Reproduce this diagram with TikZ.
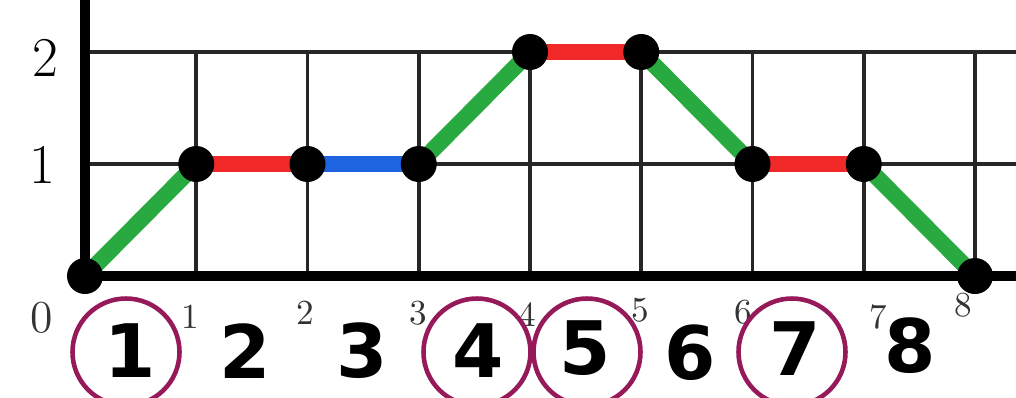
\documentclass[tikz,border=0pt]{standalone}
\usepackage{fontspec}
\usepackage{xcolor}
\usetikzlibrary{positioning}
\newfontfamily\markfont{DejaVu Sans}
\definecolor{segred}{RGB}{240,40,40}
\definecolor{seggreen}{RGB}{40,170,65}
\definecolor{segblue}{RGB}{30,100,225}
\definecolor{ringpurple}{RGB}{150,25,90}

\begin{document}
\begin{tikzpicture}
  \tikzset{
    gridline/.style={line width=1.1pt, black!85},
    axisline/.style={line width=2.6pt, black},
    seg/.style={line width=4.6pt},
    dot/.style={circle, fill=black, inner sep=0pt, minimum size=0.36cm},
    tick/.style={font=\fontsize{10}{11}\selectfont, text=black!80},
    ylab/.style={font=\fontsize{16}{18}\selectfont},
    bigdigit/.style={font=\markfont\bfseries\fontsize{21}{23}\selectfont},
    ring/.style={circle, draw=ringpurple, line width=1.3pt, minimum size=1.07cm, inner sep=0pt}
  }
  \useasboundingbox (0,0) rectangle (10.16,3.97);
  \clip (0,0) rectangle (10.16,3.97);

  \begin{scope}[shift={(0.85,1.21)}, x=1.1125cm, y=1.12cm]
    % grid
    \foreach \i in {1,...,8}
      \draw[gridline] (\i,0) -- (\i,2);
    \foreach \j in {1,2}
      \draw[gridline] (0,\j) -- (8.4,\j);
    \draw[axisline] (0,-0.05) -- (0,2.5);
    \draw[axisline] (-0.05,0) -- (8.4,0);

    % points of the path
    \coordinate (p0) at (0,0);
    \coordinate (p1) at (1,1);
    \coordinate (p2) at (2,1);
    \coordinate (p3) at (3,1);
    \coordinate (p4) at (4,2);
    \coordinate (p5) at (5,2);
    \coordinate (p6) at (6,1);
    \coordinate (p7) at (7,1);
    \coordinate (p8) at (8,0);

    \draw[seg, seggreen] (p0) -- (p1);
    \draw[seg, segred]   (p1) -- (p2);
    \draw[seg, segblue]  (p2) -- (p3);
    \draw[seg, seggreen] (p3) -- (p4);
    \draw[seg, segred]   (p4) -- (p5);
    \draw[seg, seggreen] (p5) -- (p6);
    \draw[seg, segred]   (p6) -- (p7);
    \draw[seg, seggreen] (p7) -- (p8);

    \foreach \k in {0,...,8}
      \node[dot] (d\k) at (p\k) {};
  \end{scope}

  % axis numbers
  \node[ylab] (y2) at (0.45,3.39) {2};
  \node[ylab] (y1) at (0.42,2.32) {1};
  \node[tick, font=\fontsize{13}{14}\selectfont] (y0) at (0.42,0.79) {0};

  \node[tick] (t1) at (1.90,0.80) {1};
  \node[tick] (t2) at (3.05,0.84) {2};
  \node[tick] (t3) at (4.18,0.84) {3};
  \node[tick] (t4) at (5.27,0.82) {4};
  \node[tick] (t5) at (6.40,0.87) {5};
  \node[tick] (t6) at (7.43,0.85) {6};
  \node[tick] (t7) at (8.78,0.80) {7};
  \node[tick] (t8) at (9.63,0.92) {8};

  % step numbers
  \node[bigdigit] (s1) at (1.30,0.46) {1};
  \node[bigdigit] (s2) at (2.45,0.46) {2};
  \node[bigdigit] (s3) at (3.62,0.46) {3};
  \node[bigdigit] (s4) at (4.78,0.46) {4};
  \node[bigdigit] (s5) at (5.85,0.49) {5};
  \node[bigdigit] (s6) at (6.90,0.44) {6};
  \node[bigdigit] (s7) at (7.95,0.48) {7};
  \node[bigdigit] (s8) at (9.10,0.51) {8};

  \node[ring] (r1) at (1.26,0.45) {};
  \node[ring] (r4) at (4.77,0.45) {};
  \node[ring] (r5) at (5.87,0.45) {};
  \node[ring] (r7) at (7.92,0.45) {};
\end{tikzpicture}
\end{document}
